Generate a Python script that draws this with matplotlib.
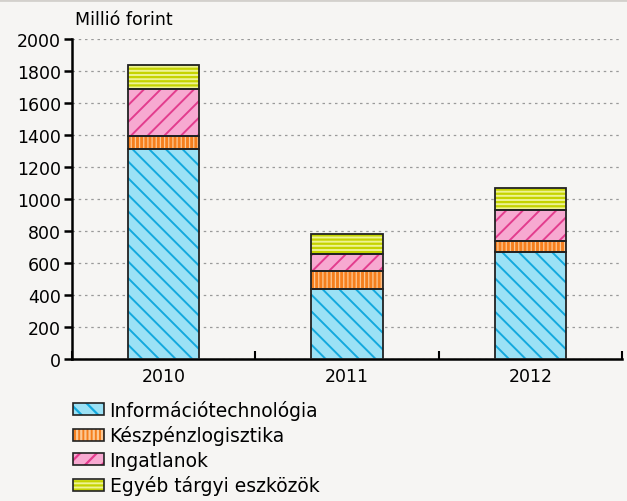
import matplotlib
matplotlib.use("Agg")
import matplotlib.pyplot as plt
import matplotlib.lines as mlines
from matplotlib.patches import Patch
from matplotlib.legend_handler import HandlerTuple
import numpy as np

# ── Data ──────────────────────────────────────────────────────────────────────
years = ["2010", "2011", "2012"]
series_names = ["Információtechnológia", "Készpénzlogisztika",
                "Ingatlanok", "Egyéb tárgyi eszközök"]
it_vals     = [1310, 440, 670]
kesz_vals   = [85, 110, 65]
ingat_vals  = [295, 105, 195]
egyeb_vals  = [150, 125, 140]

# ── Styles ────────────────────────────────────────────────────────────────────
BG = "#f6f5f3"
STYLES = [
    # face, hatch colour, hatch, hatch linewidth
    ("#9be1f5", "#13a9de", "\\\\", 1.4),
    ("#f57f1e", "#fcc894", "||||", 0.9),
    ("#f7a9d1", "#e33c8e", "//", 1.4),
    ("#eef394", "#c5d300", "----", 1.6),
]

plt.rcParams["font.family"] = ["DejaVu Sans"]

fig = plt.figure(figsize=(6.27, 5.02), dpi=100, facecolor=BG)
ax = fig.add_axes([72 / 627, 1 - 360 / 502, (622 - 72) / 627, 320 / 502])
ax.set_facecolor(BG)

x = np.arange(len(years))
width = 0.39
bottom = np.zeros(len(years))
values = [it_vals, kesz_vals, ingat_vals, egyeb_vals]

for vals, (face, hcol, hatch, hlw) in zip(values, STYLES):
    plt.rcParams["hatch.linewidth"] = hlw
    ax.bar(x, vals, width, bottom=bottom, color=face, edgecolor=hcol,
           hatch=hatch, linewidth=0, zorder=3)
    ax.bar(x, vals, width, bottom=bottom, fill=False, edgecolor="#222222",
           linewidth=1.3, zorder=4)
    bottom += np.array(vals)

# ── Axes formatting ───────────────────────────────────────────────────────────
ax.set_ylim(0, 2000)
ax.set_xlim(-0.5, 2.5)
ax.set_yticks(np.arange(0, 2001, 200))
ax.set_xticks(x)
ax.set_xticklabels(years)
ax.set_xticks([-0.5, 0.5, 1.5, 2.5], minor=True)
ax.tick_params(axis="x", which="major", length=0, labelsize=12.5, pad=6)
ax.tick_params(axis="x", which="minor", length=6, width=1.5, direction="in")
ax.tick_params(axis="y", length=6, width=1.8, labelsize=12.5, pad=2)
ax.grid(axis="y", color="#9a9a9a", ls=(0, (2, 3)), lw=0.9, zorder=0)
for s in ("top", "right"):
    ax.spines[s].set_visible(False)
ax.spines["left"].set_linewidth(1.8)
ax.spines["bottom"].set_linewidth(1.8)

fig.text(75 / 627, 1 - 20 / 502, "Millió forint", fontsize=12.5,
         ha="left", va="center")

# top border line
fig.add_artist(mlines.Line2D([0, 1], [0.998, 0.998], color="#d3d0cc",
                             lw=2, transform=fig.transFigure))

# ── Legend ────────────────────────────────────────────────────────────────────
handles = []
for face, hcol, hatch, hlw in STYLES:
    plt.rcParams["hatch.linewidth"] = hlw
    h1 = Patch(facecolor=face, edgecolor=hcol, hatch=hatch, linewidth=0)
    h2 = Patch(fill=False, edgecolor="#222222", linewidth=1.2)
    handles.append((h1, h2))
fig.legend(handles, series_names, handler_map={tuple: HandlerTuple(ndivide=1, pad=0)},
           loc="upper left", bbox_to_anchor=(73 / 627, 1 - 401 / 502),
           frameon=False, fontsize=13.5, handlelength=1.65, handleheight=0.6,
           handletextpad=0.3, labelspacing=0.29, borderpad=0, borderaxespad=0)

fig.savefig("out.png", dpi=100, facecolor=BG)
